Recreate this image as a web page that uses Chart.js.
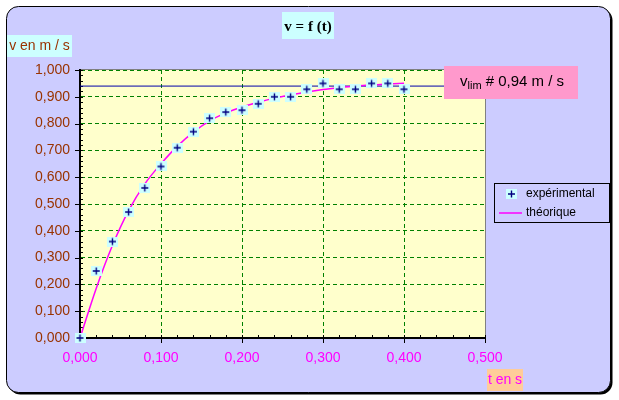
<!DOCTYPE html>
<html>
<head>
<meta charset="utf-8">
<script src="https://cdn.jsdelivr.net/npm/chart.js@4.4.0/dist/chart.umd.min.js"></script>
<style>
    body { margin: 0; background: #fff; }
    canvas { display: block; }
</style>
</head>
<body>
<canvas id="myChart" width="619" height="400"></canvas>
<script>
// mesures (t en s, v en m/s)
var tExp = [0.00, 0.02, 0.04, 0.06, 0.08, 0.10, 0.12, 0.14, 0.16, 0.18, 0.20,
            0.22, 0.24, 0.26, 0.28, 0.30, 0.32, 0.34, 0.36, 0.38, 0.40];
var vExp = [0.000, 0.250, 0.360, 0.470, 0.560, 0.640, 0.710, 0.770, 0.820, 0.843, 0.850,
            0.874, 0.900, 0.900, 0.928, 0.950, 0.928, 0.928, 0.950, 0.950, 0.928];

// courbe theorique
var tTheo = [0.00, 0.02, 0.04, 0.06, 0.08, 0.10, 0.12, 0.14, 0.16, 0.18, 0.20,
             0.22, 0.24, 0.26, 0.28, 0.30, 0.32, 0.34, 0.36, 0.38, 0.40];
var vTheo = [0.000, 0.185, 0.345, 0.475, 0.575, 0.650, 0.715, 0.768, 0.810, 0.840, 0.862,
             0.880, 0.895, 0.907, 0.918, 0.927, 0.934, 0.940, 0.944, 0.948, 0.951];

var vLim = 0.94;

var xTickValues = [0, 0.1, 0.2, 0.3, 0.4, 0.5];
var yTickValues = [0, 0.1, 0.2, 0.3, 0.4, 0.5, 0.6, 0.7, 0.8, 0.9, 1.0];
var minorStep = 0.02;

function fmt(v) {
    return v.toFixed(3).replace('.', ',');
}

// marqueur "+" sur fond cyan
var marker = document.createElement('canvas');
marker.width = 11;
marker.height = 10;
var m = marker.getContext('2d');
m.fillStyle = '#CCFFFF';
m.fillRect(0, 0, 11, 10);
m.strokeStyle = '#000080';
m.lineWidth = 1.4;
m.beginPath();
m.moveTo(2, 5);
m.lineTo(9, 5);
m.moveTo(5.5, 1.5);
m.lineTo(5.5, 8.5);
m.stroke();

function roundRect(ctx, x, y, w, h, r) {
    ctx.beginPath();
    ctx.moveTo(x + r, y);
    ctx.lineTo(x + w - r, y);
    ctx.arcTo(x + w, y, x + w, y + r, r);
    ctx.lineTo(x + w, y + h - r);
    ctx.arcTo(x + w, y + h, x + w - r, y + h, r);
    ctx.lineTo(x + r, y + h);
    ctx.arcTo(x, y + h, x, y + h - r, r);
    ctx.lineTo(x, y + r);
    ctx.arcTo(x, y, x + r, y, r);
    ctx.closePath();
}

var background = {
    id: 'background',
    beforeDraw: function (chart) {
        var ctx = chart.ctx, a = chart.chartArea;
        ctx.save();
        ctx.fillStyle = '#fff';
        ctx.fillRect(0, 0, chart.width, chart.height);
        // ombre
        roundRect(ctx, 8.5, 8.5, 604, 386, 12);
        ctx.fillStyle = '#000';
        ctx.fill();
        roundRect(ctx, 6.5, 6.5, 604, 386, 12);
        ctx.fillStyle = '#CCCCFF';
        ctx.fill();
        ctx.strokeStyle = '#000';
        ctx.lineWidth = 1;
        ctx.stroke();
        // zone de tracé
        ctx.fillStyle = '#FFFFCC';
        ctx.fillRect(a.left, a.top, a.right - a.left, a.bottom - a.top);
        ctx.strokeStyle = '#808080';
        ctx.beginPath();
        ctx.moveTo(a.left, a.top - 0.5);
        ctx.lineTo(a.right + 0.5, a.top - 0.5);
        ctx.lineTo(a.right + 0.5, a.bottom);
        ctx.stroke();
        ctx.restore();
    }
};

var tickMarks = {
    id: 'tickMarks',
    beforeDatasetsDraw: function (chart) {
        var ctx = chart.ctx, a = chart.chartArea;
        var xs = chart.scales.x, ys = chart.scales.y;
        ctx.save();
        ctx.strokeStyle = '#000';
        ctx.lineWidth = 1;
        ctx.beginPath();
        var nx = Math.round((xs.max - xs.min) / minorStep);
        for (var i = 0; i <= nx; i++) {
            var px = Math.round(xs.getPixelForValue(xs.min + i * minorStep)) + 0.5;
            ctx.moveTo(px, a.bottom + (i % 5 === 0 ? 5 : 0));
            ctx.lineTo(px, a.bottom - 3);
        }
        var ny = Math.round((ys.max - ys.min) / minorStep);
        for (var j = 0; j <= ny; j++) {
            var py = Math.round(ys.getPixelForValue(ys.min + j * minorStep)) + 0.5;
            ctx.moveTo(a.left - (j % 5 === 0 ? 5 : 0), py);
            ctx.lineTo(a.left + 3, py);
        }
        ctx.stroke();
        ctx.restore();
    }
};

var overlays = {
    id: 'overlays',
    afterDraw: function (chart) {
        var ctx = chart.ctx;
        ctx.save();
        ctx.textBaseline = 'middle';

        // titre
        ctx.fillStyle = '#CCFFFF';
        ctx.fillRect(282, 12, 52, 27);
        ctx.fillStyle = '#000';
        ctx.font = 'bold 15px "Liberation Serif"';
        ctx.textAlign = 'center';
        ctx.fillText('v = f (t)', 308, 27);

        // titre axe y
        ctx.fillStyle = '#CCFFFF';
        ctx.fillRect(7, 35, 65, 22);
        ctx.fillStyle = '#993300';
        ctx.font = '14px "Liberation Sans"';
        ctx.fillText('v en m / s', 39.5, 46);

        // titre axe x
        ctx.fillStyle = '#FFCC99';
        ctx.fillRect(487, 369, 36, 22);
        ctx.fillStyle = '#FF00FF';
        ctx.font = '14px "Liberation Sans"';
        ctx.fillText('t en s', 505, 380);

        // vitesse limite
        ctx.fillStyle = '#FF99CC';
        ctx.fillRect(444, 66, 134, 33);
        ctx.fillStyle = '#000';
        ctx.textAlign = 'left';
        var x = 460;
        ctx.font = '15px "Liberation Sans"';
        ctx.fillText('v', x, 82);
        x += ctx.measureText('v').width;
        ctx.font = '11px "Liberation Sans"';
        ctx.fillText('lim', x, 86);
        x += ctx.measureText('lim').width;
        ctx.font = '15px "Liberation Sans"';
        ctx.fillText(' # ' + vLim.toFixed(2).replace('.', ',') + ' m / s', x, 82);

        // légende
        ctx.strokeStyle = '#000';
        ctx.lineWidth = 1;
        ctx.strokeRect(494.5, 183.5, 115, 39);
        ctx.drawImage(marker, 506, 189);
        ctx.strokeStyle = '#FF00FF';
        ctx.lineWidth = 1.5;
        ctx.beginPath();
        ctx.moveTo(499, 213);
        ctx.lineTo(522, 213);
        ctx.stroke();
        ctx.fillStyle = '#000';
        ctx.font = '12px "Liberation Sans"';
        ctx.fillText(chart.data.datasets[0].label, 526, 194);
        ctx.fillText(chart.data.datasets[1].label, 526, 213);
        ctx.restore();
    }
};

new Chart('myChart', {
    type: 'scatter',
    data: {
        datasets: [{
            label: 'expérimental',
            data: tExp.map(function (t, i) { return { x: t, y: vExp[i] }; }),
            pointStyle: marker,
            pointRadius: 5,
            showLine: false,
            clip: false,
            order: 0
        },
        {
            label: 'théorique',
            data: tTheo.map(function (t, i) { return { x: t, y: vTheo[i] }; }),
            showLine: true,
            borderColor: '#FF00FF',
            borderWidth: 1.5,
            pointRadius: 0,
            cubicInterpolationMode: 'monotone',
            order: 1
        },
        {
            label: 'vlim',
            data: [{ x: 0, y: vLim }, { x: 0.5, y: vLim }],
            showLine: true,
            borderColor: '#0000AA',
            borderWidth: 1,
            pointRadius: 0,
            order: 2
        }]
    },
    options: {
        responsive: false,
        animation: false,
        events: [],
        layout: { padding: { left: 0, top: 70, right: 134, bottom: 0 } },
        plugins: {
            legend: { display: false },
            title: { display: false },
            tooltip: { enabled: false }
        },
        scales: {
            x: {
                type: 'linear',
                min: 0,
                max: 0.5,
                afterBuildTicks: function (s) { s.ticks = xTickValues.map(function (v) { return { value: v }; }); },
                afterFit: function (s) { s.height = 62; },
                ticks: {
                    callback: function (v) { return fmt(v); },
                    color: '#FF00FF',
                    font: { family: 'Liberation Sans', size: 14 },
                    padding: 12,
                    maxRotation: 0,
                    autoSkip: false
                },
                grid: {
                    color: function (c) { return c.tick && c.tick.value > 0 && c.tick.value < 0.5 ? '#008000' : 'rgba(0,0,0,0)'; },
                    drawTicks: false
                },
                border: { color: '#000', width: 2, dash: [4, 3] }
            },
            y: {
                type: 'linear',
                min: 0,
                max: 1,
                afterBuildTicks: function (s) { s.ticks = yTickValues.map(function (v) { return { value: v }; }); },
                afterFit: function (s) { s.width = 80; },
                ticks: {
                    callback: function (v) { return fmt(v); },
                    color: '#993300',
                    font: { family: 'Liberation Sans', size: 14 },
                    padding: 10,
                    autoSkip: false
                },
                grid: {
                    color: function (c) { return c.tick && c.tick.value > 0 ? '#008000' : 'rgba(0,0,0,0)'; },
                    drawTicks: false
                },
                border: { color: '#000', width: 2, dash: [4, 3] }
            }
        }
    },
    plugins: [background, tickMarks, overlays]
});
</script>
</body>
</html>
